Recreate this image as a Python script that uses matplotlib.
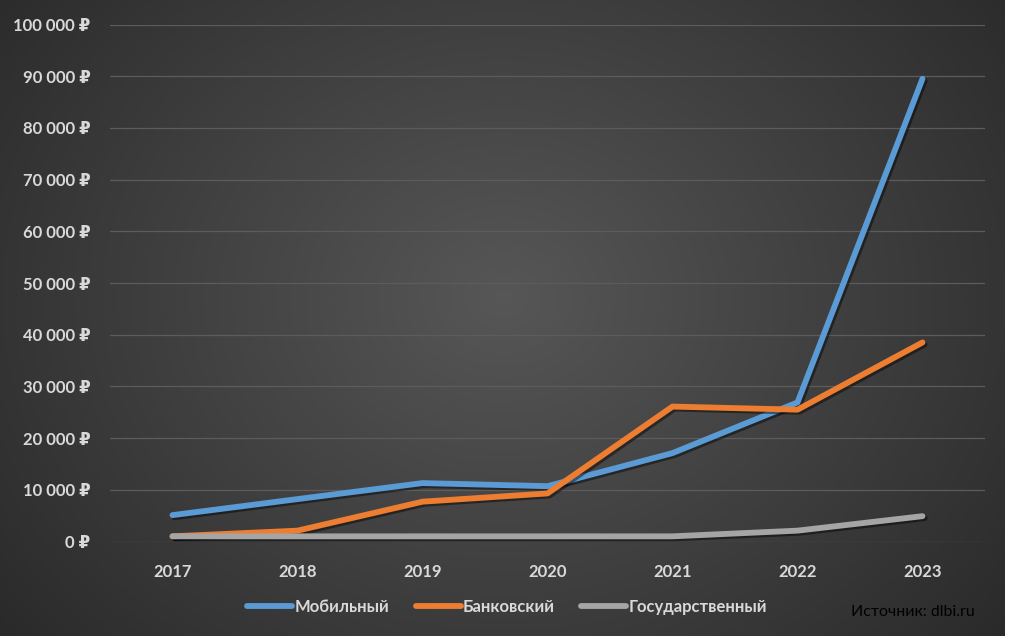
import numpy as np
import matplotlib
matplotlib.use("Agg")
import matplotlib.pyplot as plt
import matplotlib.patheffects as pe

years = ["2017", "2018", "2019", "2020", "2021", "2022", "2023"]
mobile = [5100, 8200, 11300, 10700, 17100, 26900, 89500]
bank = [1000, 2100, 7700, 9300, 26100, 25500, 38500]
gov = [1000, 1000, 1000, 1000, 1000, 2100, 4900]
series_names = ["Мобильный", "Банковский", "Государственный"]
colors = ["#5b9bd5", "#ed7d31", "#a5a5a5"]
yticks = list(range(0, 100001, 10000))

FAM = ["Lato", "DejaVu Sans"]
plt.rcParams["font.family"] = FAM

W, H = 1009, 639
fig = plt.figure(figsize=(W / 100, H / 100), dpi=100, facecolor="white")

# background with radial gradient
bg = fig.add_axes([0, 3 / H, 1005 / W, 1 - 3 / H])
bg.set_axis_off()
yy, xx = np.mgrid[0:300, 0:500]
cx, cy = 250, 140
r = np.sqrt(((xx - cx) / 330.0) ** 2 + ((yy - cy) / 260.0) ** 2)
r = np.clip(r, 0, 1)
val = 0.34 - 0.18 * r
img = np.dstack([val, val, val])
bg.imshow(img, aspect="auto", extent=[0, 1, 0, 1], interpolation="bicubic")
bg.set_xlim(0, 1)
bg.set_ylim(0, 1)

# plot area
left, right = 110, 985
top, bottom = 24.5, 541.5
ax = fig.add_axes([left / W, 1 - bottom / H, (right - left) / W, (bottom - top) / H])
ax.patch.set_alpha(0)
x = np.arange(len(years))
shadow = [pe.SimpleLineShadow(offset=(1.5, -1.5), shadow_color="black", alpha=0.45), pe.Normal()]
for vals, c, name in zip([mobile, bank, gov], colors, series_names):
    ax.plot(x, vals, color=c, lw=4.2, solid_capstyle="round", solid_joinstyle="round",
            label=name, path_effects=shadow, zorder=3)

ax.set_xlim(-0.5, len(years) - 0.5)
ax.set_ylim(0, 100000)
ax.set_yticks(yticks)
ax.set_yticklabels([("{:,}".format(v).replace(",", " ")) + " ₽" for v in yticks])
ax.set_xticks(x)
ax.set_xticklabels(years)
ax.grid(axis="y", color="#5c5c5c", lw=0.9)
ax.set_axisbelow(True)
for s in ax.spines.values():
    s.set_visible(False)
ax.tick_params(axis="both", length=0, colors="#d9d9d9", labelsize=12)
ax.tick_params(axis="y", pad=14)
ax.tick_params(axis="x", pad=16)
for lbl in ax.get_xticklabels() + ax.get_yticklabels():
    lbl.set_fontweight("bold")

leg = fig.legend(loc="center", bbox_to_anchor=(507 / W, 1 - 607 / H), ncol=3, frameon=False,
                 handlelength=2.7, columnspacing=1.6, handletextpad=0.12,
                 prop={"family": FAM, "size": 12, "weight": "bold"})
for t in leg.get_texts():
    t.set_color("#d9d9d9")
for h in leg.get_lines():
    h.set_path_effects([])

fig.text(975 / W, 1 - 612 / H, "Источник: dlbi.ru", ha="right", va="center",
         color="black", fontsize=11.5, family=FAM)

fig.savefig("out.png", dpi=100, facecolor="white")
